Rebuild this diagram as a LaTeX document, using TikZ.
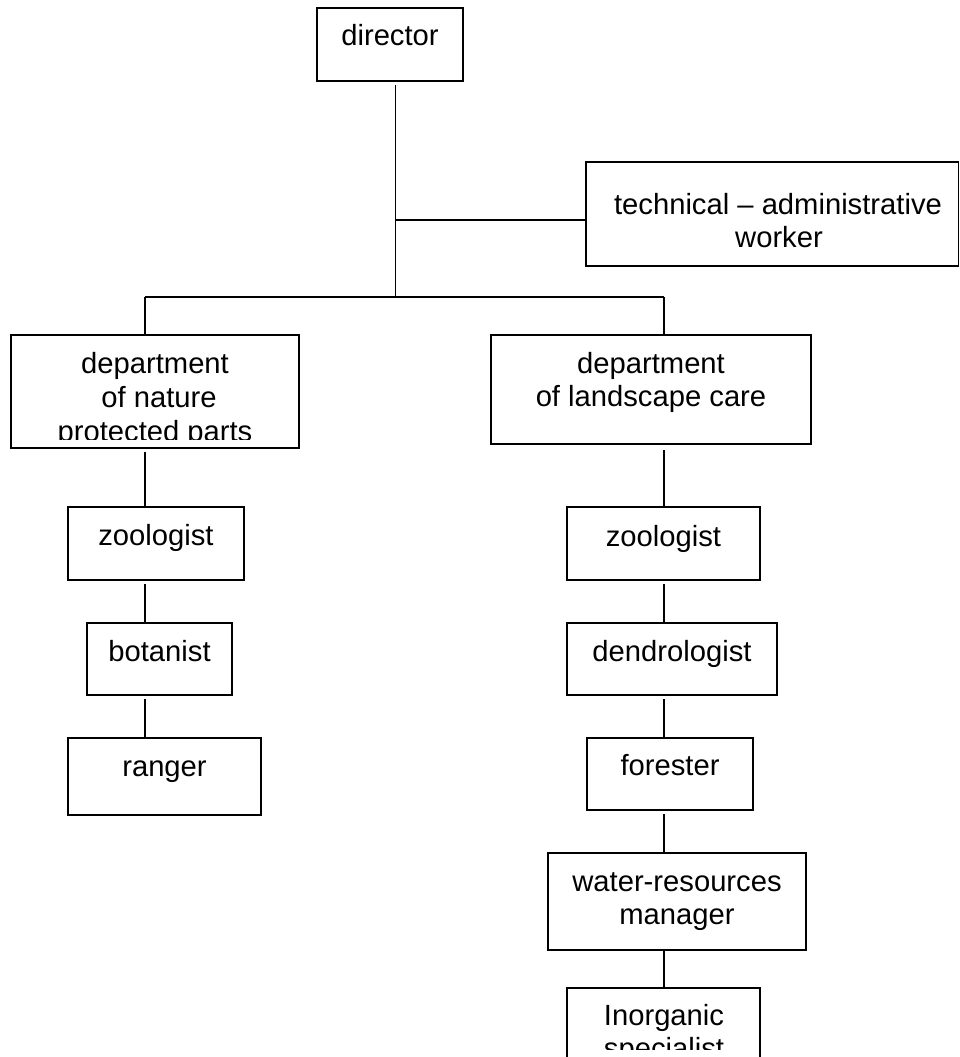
\documentclass[tikz,border=0pt]{standalone}
\usepackage{fontspec}
\setmainfont{Liberation Sans}
\newcommand\labfont{\fontsize{29.2}{33.5}\selectfont}
\begin{document}
\begin{tikzpicture}[x=1pt,y=-1pt,
  box/.style={draw,line width=1.3pt,inner sep=0pt,outer sep=0pt},
  lbl/.style={anchor=base,inner sep=0pt,font=\labfont},
  link/.style={line width=1.1pt},
  gap/.style={shorten <=4pt}]
\useasboundingbox (0,0) rectangle (960,1057);
\begin{scope}
\clip (0,0) rectangle (960,1057);
\fill[white] (0,0) rectangle (960,1057);
% boxes
\node[box,minimum width=146pt,minimum height=73pt] (dir) at (390,44.5) {};
\node[box,minimum width=372.5pt,minimum height=104pt] (tech) at (772.25,214) {};
\node[box,minimum width=288pt,minimum height=113pt] (dept1) at (155,391.5) {};
\node[box,minimum width=320pt,minimum height=109pt] (dept2) at (651,389.5) {};
\node[box,minimum width=176pt,minimum height=73pt] (zoo1) at (156,543.5) {};
\node[box,minimum width=145pt,minimum height=72pt] (bot) at (159.5,659) {};
\node[box,minimum width=193pt,minimum height=77pt] (ran) at (164.5,776.5) {};
\node[box,minimum width=193pt,minimum height=73pt] (zoo2) at (663.5,543.5) {};
\node[box,minimum width=210pt,minimum height=72pt] (den) at (672,659) {};
\node[box,minimum width=166pt,minimum height=72pt] (for) at (670,774) {};
\node[box,minimum width=258pt,minimum height=97pt] (wat) at (677,901.5) {};
\node[box,minimum width=193pt,minimum height=100pt] (ino) at (663.5,1038) {};
% labels
\node[lbl] (tdir) at (390,46) {director};
\node[lbl] (ttech1) at (778,214) {technical -- administrative};
\node[lbl] (ttech2) at (779,247) {worker};
\node[lbl] (td1a) at (155,373) {department};
\node[lbl] (td1b) at (159,407) {of nature};
\begin{scope}
\clip (12,300) rectangle (298,439);
\node[lbl] (td1c) at (155,441) {protected parts};
\end{scope}
\node[lbl] (td2a) at (651,373) {department};
\node[lbl] (td2b) at (651,406) {of landscape care};
\node[lbl] (tzoo1) at (156,545) {zoologist};
\node[lbl] (tbot) at (159.5,661) {botanist};
\node[lbl] (tran) at (164.5,776) {ranger};
\node[lbl] (tzoo2) at (663.5,546) {zoologist};
\node[lbl] (tden) at (672,661) {dendrologist};
\node[lbl] (tfor) at (670,775) {forester};
\node[lbl] (twat1) at (677,891) {water-resources};
\node[lbl] (twat2) at (677,924) {manager};
\node[lbl] (tino1) at (664,1025) {Inorganic};
\begin{scope}
\clip (568,1000) rectangle (759,1049);
\node[lbl] (tino2) at (664,1058.5) {specialist};
\end{scope}
% connector coordinates
\coordinate (trunk) at (395.5,297);
\coordinate (tj) at (395.5,220);
\coordinate (lc) at (145,297);
\coordinate (rc) at (664,297);
% connectors
\draw[link,gap] (dir.south -| trunk) -- (trunk);
\draw[link] (tj) -- (tj -| tech.west);
\draw[link] (lc) -- (rc);
\draw[link] (lc) -- (lc |- dept1.north);
\draw[link] (rc) -- (rc |- dept2.north);
\draw[link,gap] (dept1.south -| lc) -- (zoo1.north -| lc);
\draw[link,gap] (zoo1.south -| lc) -- (bot.north -| lc);
\draw[link,gap] (bot.south -| lc) -- (ran.north -| lc);
\draw[link,shorten <=6pt] (dept2.south -| rc) -- (zoo2.north -| rc);
\draw[link,gap] (zoo2.south -| rc) -- (den.north -| rc);
\draw[link,gap] (den.south -| rc) -- (for.north -| rc);
\draw[link,gap] (for.south -| rc) -- (wat.north -| rc);
\draw[link] (wat.south -| rc) -- (ino.north -| rc);
\end{scope}
\end{tikzpicture}
\end{document}
